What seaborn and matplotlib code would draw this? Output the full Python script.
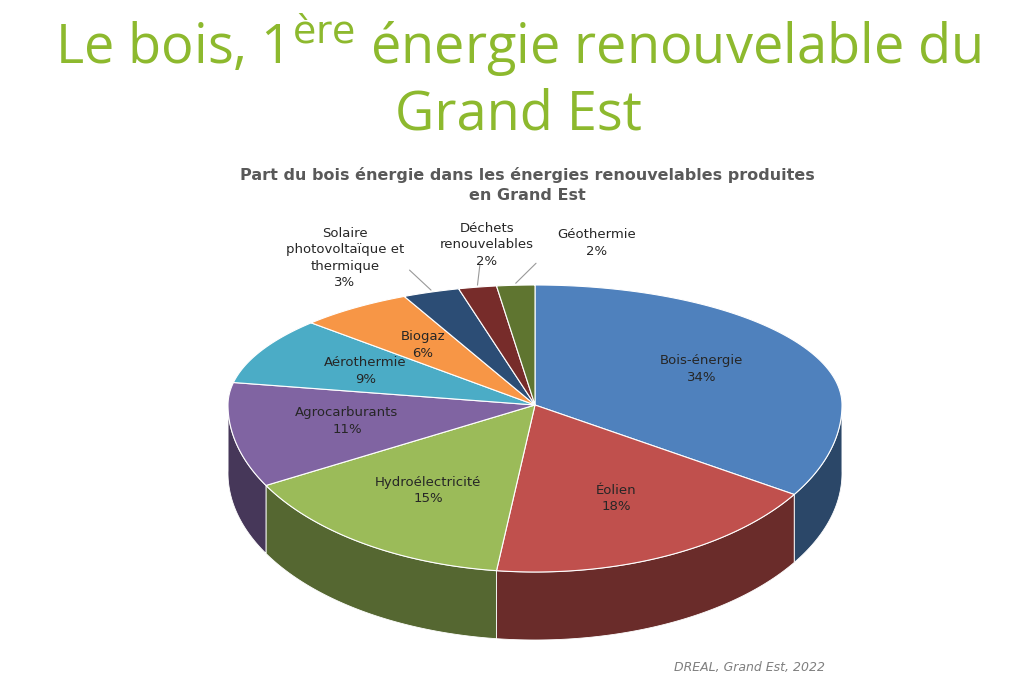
import numpy as np
import matplotlib.pyplot as plt
import seaborn as sns
from matplotlib.patches import Polygon
from matplotlib.colors import to_rgb

sns.set_theme(style="white")

labels = ['Bois-énergie', 'Éolien', 'Hydroélectricité', 'Agrocarburants', 'Aérothermie',
          'Biogaz', 'Solaire\nphotovoltaïque et\nthermique', 'Déchets\nrenouvelables', 'Géothermie']
values = [34, 18, 15, 11, 9, 6, 3, 2, 2]
colors = ['#4F81BD', '#C0504D', '#9BBB59', '#8064A2', '#4BACC6',
          '#F79646', '#2C4D75', '#772C2A', '#5F7530']

# geometry of the tilted pie (pixel space), perspective: back half flatter than front
cx, cy, rx, ry_up, ry_dn, depth = 535, 405, 307, 120, 167, 68

fig = plt.figure(figsize=(10.24, 7), dpi=100)
ax = fig.add_axes([0, 0, 1, 1])
ax.set_xlim(0, 1024)
ax.set_ylim(700, 0)
ax.axis('off')

def pt(a, dy=0):
    s = np.sin(a)
    r = ry_up if s > 0 else ry_dn
    return cx + rx * np.cos(a), cy - r * s + dy

fr = np.array(values) / sum(values)
ends = np.pi / 2 - 2 * np.pi * np.cumsum(fr)
starts = np.concatenate([[np.pi / 2], ends[:-1]])

# side walls (front half only)
for s, e, c in zip(starts, ends, colors):
    a = np.linspace(e, s, 200)
    a = a[np.sin(a) <= 0.02]
    if len(a) < 2:
        continue
    top = [pt(t) for t in a]
    bot = [pt(t, depth) for t in a[::-1]]
    dark = tuple(v * 0.55 for v in to_rgb(c))
    ax.add_patch(Polygon(top + bot, closed=True, fc=dark, ec='white', lw=0.6))

# top faces
for s, e, c in zip(starts, ends, colors):
    a = np.linspace(s, e, 200)
    poly = [(cx, cy)] + [pt(t) for t in a]
    ax.add_patch(Polygon(poly, closed=True, fc=c, ec='white', lw=0.8))

# labels
outer = {6: (345, 258), 7: (487, 245), 8: (597, 243)}
for i, (s, e, lab, v) in enumerate(zip(starts, ends, labels, values)):
    m = (s + e) / 2
    txt = f"{lab}\n{v}%"
    if i in outer:
        tx, ty = outer[i]
        ax.text(tx, ty, txt, ha='center', va='center', fontsize=9.5, linespacing=1.35)
        x0, y0 = pt(m)
        ax.plot([x0, x0 + (tx - x0) * 0.25], [y0 - 2, y0 - 22], color='#999999', lw=0.8)
    else:
        x, y = pt(m)
        x = cx + (x - cx) * 0.62
        y = cy + (y - cy) * 0.62
        ax.text(x, y, txt, ha='center', va='center', fontsize=9.5, linespacing=1.35)

ax.text(518, 45, "Le bois, 1$^{\\mathrm{ère}}$ énergie renouvelable du", ha='center', va='center',
        fontsize=39, color='#8DB92E', family='Open Sans')
ax.text(518, 115, "Grand Est", ha='center', va='center', fontsize=39, color='#8DB92E', family='Open Sans')
ax.text(527, 185, "Part du bois énergie dans les énergies renouvelables produites\nen Grand Est",
        ha='center', va='center', fontsize=11.5, fontweight='bold', color='#595959', linespacing=1.45)
ax.text(825, 667, "DREAL, Grand Est, 2022", ha='right', va='center', fontsize=9,
        style='italic', color='#7F7F7F')

fig.savefig('out.png', dpi=100)
